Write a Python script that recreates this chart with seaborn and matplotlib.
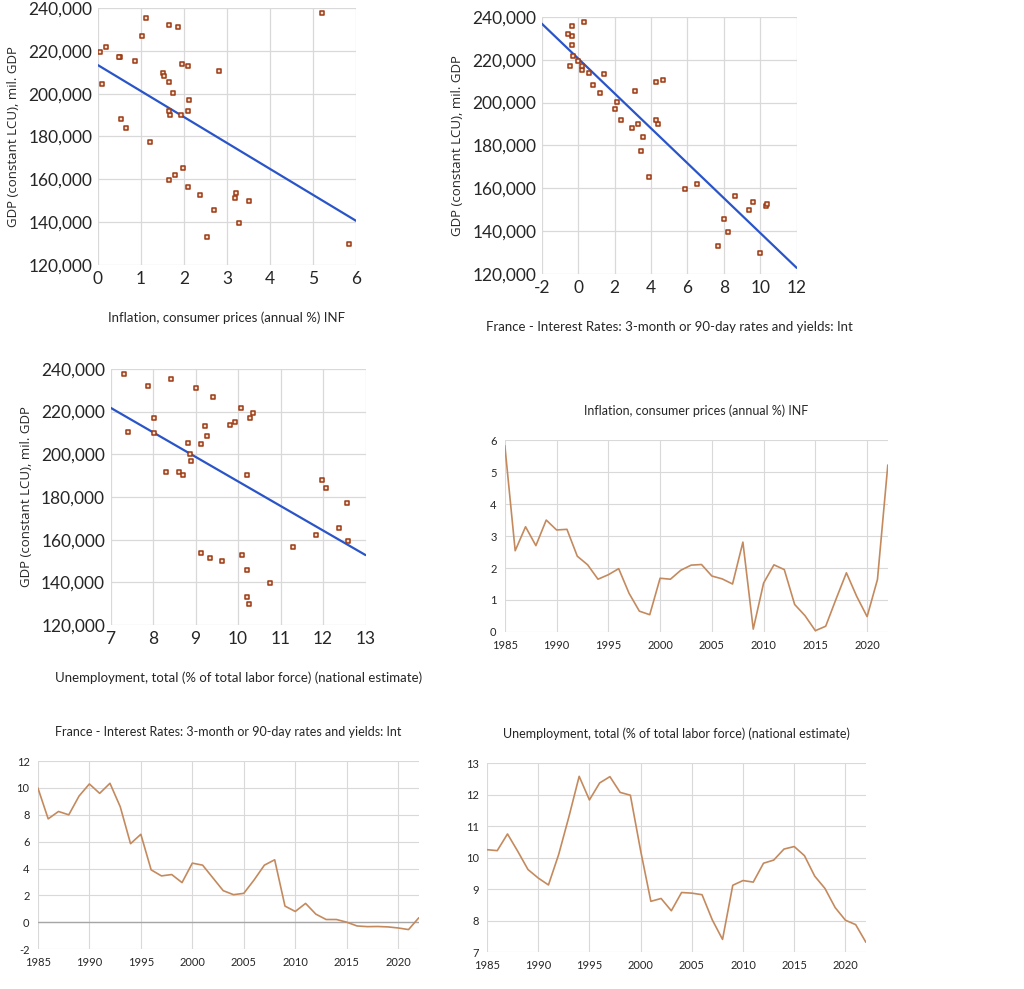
import numpy as np
import pandas as pd
import matplotlib
matplotlib.use("Agg")
import matplotlib.pyplot as plt
from matplotlib.ticker import FuncFormatter, MultipleLocator
import seaborn as sns

# yearly data
years = list(range(1985, 2023))

gdp = [129.8, 133.2, 139.5, 145.6, 149.8, 151.5, 153.6, 152.7, 156.6, 159.5,
       162.1, 165.4, 177.3, 184.1, 188.0, 190.2, 191.9, 190.2, 191.9, 196.8,
       200.2, 205.3, 209.8, 210.4, 204.6, 208.4, 213.1, 213.8, 215.1, 217.0,
       219.4, 221.9, 227.0, 231.2, 235.5, 217.2, 232.1, 237.5]  # thousands

inf = [5.83, 2.54, 3.29, 2.70, 3.50, 3.19, 3.21, 2.37, 2.10, 1.65,
       1.79, 1.98, 1.21, 0.65, 0.54, 1.68, 1.65, 1.93, 2.09, 2.11,
       1.75, 1.66, 1.50, 2.81, 0.09, 1.53, 2.10, 1.95, 0.86, 0.51,
       0.04, 0.18, 1.03, 1.85, 1.11, 0.48, 1.64, 5.22]

rate = [10.0, 7.7, 8.25, 8.0, 9.4, 10.3, 9.6, 10.35, 8.6, 5.85,
        6.55, 3.9, 3.45, 3.55, 2.95, 4.4, 4.25, 3.3, 2.35, 2.05,
        2.15, 3.15, 4.25, 4.65, 1.2, 0.8, 1.4, 0.6, 0.2, 0.2,
        0.0, -0.28, -0.33, -0.32, -0.35, -0.43, -0.55, 0.33]

unemp = [10.25, 10.22, 10.75, 10.2, 9.62, 9.35, 9.13, 10.1, 11.3, 12.58,
         11.83, 12.37, 12.57, 12.07, 11.98, 10.22, 8.61, 8.70, 8.31, 8.89,
         8.87, 8.82, 8.02, 7.40, 9.12, 9.27, 9.22, 9.82, 9.92, 10.27,
         10.35, 10.06, 9.41, 9.02, 8.41, 8.01, 7.87, 7.31]

inf_label = "Inflation, consumer prices (annual %) INF"
rate_label = "France - Interest Rates: 3-month or 90-day rates and yields: Int"
unemp_label = "Unemployment, total (% of total labor force) (national estimate)"
gdp_label = "GDP (constant LCU), mil. GDP"

df = pd.DataFrame({
    "year": years,
    "gdp": np.array(gdp) * 1000,
    "inf": inf,
    "rate": rate,
    "unemp": unemp,
})

sns.set_theme(style="white")
plt.rcParams["font.family"] = ["Lato", "DejaVu Sans"]
plt.rcParams["axes.unicode_minus"] = False

GRID = "#d9d9d9"
TXT = "#262626"
MARK_EDGE = "#9c3a14"
MARK_FACE = "#f5dccb"
BLUE = "#2a55c9"
LINE = "#c48a5e"

fig = plt.figure(figsize=(10.24, 9.89), dpi=100)


def scatter_panel(rect, xcol, xlim, xstep, xlabel):
    ax = fig.add_axes(rect)
    ax.set_xlim(*xlim)
    ax.set_ylim(120000, 240000)
    # truncate=False -> trend line spans the whole x range, like the original
    sns.regplot(data=df, x=xcol, y="gdp", ax=ax, ci=None, truncate=False,
                marker="s",
                scatter_kws=dict(s=7, color=MARK_EDGE, facecolor=MARK_FACE,
                                 linewidths=1.1, alpha=1, zorder=3),
                line_kws=dict(color=BLUE, lw=1.6, zorder=2))
    ax.set_xlim(*xlim)
    ax.set_ylim(120000, 240000)
    ax.xaxis.set_major_locator(MultipleLocator(xstep))
    ax.yaxis.set_major_locator(MultipleLocator(20000))
    ax.yaxis.set_major_formatter(FuncFormatter(lambda v, p: f"{int(v):,}"))
    ax.grid(True, color=GRID, lw=0.9)
    ax.set_axisbelow(True)
    for s in ax.spines.values():
        s.set_visible(False)
    ax.tick_params(length=0, labelsize=12.5, colors=TXT, pad=4)
    ax.set_xlabel(xlabel, fontsize=9.5, color=TXT, labelpad=18)
    ax.set_ylabel(gdp_label, fontsize=9.5, color=TXT, labelpad=6,
                  family=["Open Sans", "DejaVu Sans"])
    return ax


def line_panel(rect, ycol, ylim, ystep, title, zero_line=False):
    ax = fig.add_axes(rect)
    sns.lineplot(data=df, x="year", y=ycol, ax=ax, color=LINE, lw=1.2)
    ax.set_xlim(1985, 2022)
    ax.set_ylim(*ylim)
    ax.set_xticks(range(1985, 2021, 5))
    ax.yaxis.set_major_locator(MultipleLocator(ystep))
    ax.grid(True, color=GRID, lw=0.8)
    ax.set_axisbelow(True)
    if zero_line:
        ax.axhline(0, color="#a6a6a6", lw=1.0, zorder=1)
    for s in ax.spines.values():
        s.set_visible(False)
    ax.tick_params(length=0, labelsize=8, colors=TXT, pad=6)
    ax.set_xlabel("")
    ax.set_ylabel("")
    ax.set_title(title, fontsize=9, color=TXT, pad=18)
    return ax


scatter_panel([0.0957, 0.732, 0.252, 0.260], "inf", (0, 6), 1, inf_label)
scatter_panel([0.529, 0.723, 0.249, 0.260], "rate", (-2, 12), 2, rate_label)
scatter_panel([0.108, 0.368, 0.249, 0.259], "unemp", (7, 13), 1, unemp_label)

line_panel([0.493, 0.361, 0.374, 0.194], "inf", (0, 6), 1, inf_label)
line_panel([0.037, 0.0404, 0.372, 0.190], "rate", (-2, 12), 2, rate_label,
           zero_line=True)
line_panel([0.4756, 0.0374, 0.370, 0.191], "unemp", (7, 13), 1, unemp_label)

fig.savefig("out.png", dpi=100)
